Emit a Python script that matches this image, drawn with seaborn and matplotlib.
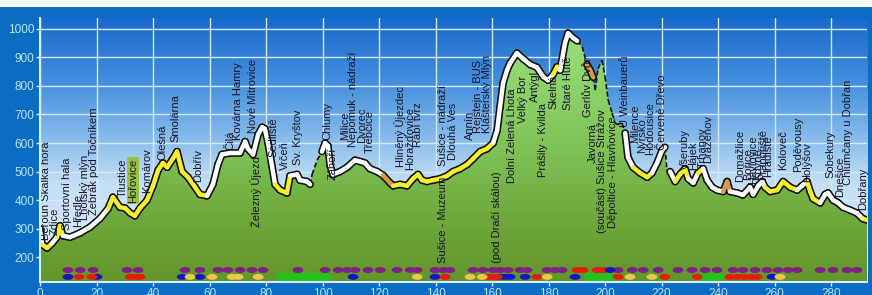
import numpy as np
import matplotlib
matplotlib.use("Agg")
import matplotlib.pyplot as plt
import seaborn as sns
from matplotlib.colors import LinearSegmentedColormap
from matplotlib.collections import LineCollection
from matplotlib.patches import Polygon, Rectangle
from matplotlib.path import Path

# elevation profile (km, m n.m.)
km = [0, 0.7, 1.4, 2.5, 4.2, 6.0, 7.1, 8.1, 10.6, 14.2, 17.7, 21.2, 24.1, 25.8, 28.3,
      30.1, 31.9, 33.6, 35.4, 37.9, 40.0, 41.8, 43.5, 45.0, 46.7, 48.5, 50.3, 52.4,
      54.9, 56.6, 59.1, 61.2, 63.0, 64.4, 67.3, 70.8, 72.6, 73.6, 75.4, 77.2, 78.6,
      79.6, 80.7, 82.1, 83.2, 85.0, 87.4, 88.5, 91.0, 92.0, 94.5, 95.6, 96.3, 98.1,
      99.8, 100.9, 101.9, 102.7, 103.7, 106.2, 108.7, 111.5, 113.3, 115.0, 116.8,
      119.3, 121.4, 123.9, 125.0, 127.4, 129.9, 132.0, 133.8, 135.2, 137.0, 139.1,
      141.6, 144.1, 146.2, 148.7, 151.2, 153.3, 155.8, 158.2, 160.4, 161.8, 162.8,
      163.9, 165.3, 166.4, 168.8, 171.0, 173.5, 175.9, 178.1, 179.8, 181.6, 183.0,
      184.1, 185.8, 186.9, 188.7, 190.1, 191.9, 193.6, 194.7, 195.8, 196.5, 197.5,
      198.9, 200.0, 201.1, 202.5, 203.5, 204.2, 206.0, 207.1, 208.1, 209.9, 212.4,
      214.9, 216.6, 218.4, 220.2, 221.2, 221.9, 223.0, 224.8, 226.5, 228.3, 229.4,
      231.2, 232.9, 234.7, 236.1, 237.9, 239.6, 241.8, 243.2, 244.2, 246.7, 248.8,
      251.3, 252.4, 254.2, 255.6, 256.6, 258.4, 260.9, 263.0, 265.5, 268.0, 269.7,
      271.5, 272.6, 273.6, 276.1, 277.9, 278.9, 280.7, 282.5, 284.2, 286.7, 289.2,
      291.2, 292.7]
elev = [300, 245, 240, 232, 248, 270, 310, 275, 270, 285, 305, 335, 370, 410, 375,
        372, 355, 345, 372, 400, 450, 505, 530, 515, 540, 570, 500, 480,
        445, 420, 415, 455, 525, 560, 565, 565, 605, 580, 560, 630, 655,
        650, 600, 520, 455, 435, 425, 485, 490, 470, 465, 455, 490, 540,
        570, 600, 590, 520, 490, 500, 515, 540, 535, 530, 510,
        500, 487, 460, 450, 455, 450, 475, 490, 470, 465, 470,
        475, 485, 500, 510, 525, 545, 570, 580, 600, 645, 725,
        810, 855, 880, 915, 895, 875, 865, 832, 820, 840, 867,
        855, 950, 985, 968, 958, 937, 875, 855, 830, 785, 860,
        890, 832, 750, 705, 670, 665, 670, 635, 550, 515, 495,
        480, 495, 530, 575, 585, 505, 500, 465, 490, 510, 475,
        460, 495, 510, 470, 445, 435, 430, 465, 430, 425, 418,
        445, 420, 450, 465, 445, 430, 435, 465, 445, 435, 450,
        465, 430, 405, 390, 420, 425, 400, 390, 375, 365, 354,
        335, 330]

# route line colour sections (default white)
sec_from = [0.7, 5.7, 24.0, 51.0, 84.0, 95.3, 121.0, 125.0, 181.0, 190.0, 194.0,
            209.5, 221.5, 224.0, 232.5, 241.0, 257.5, 272.0, 291.0]
sec_to = [4.3, 8.5, 51.0, 59.5, 88.5, 99.9, 125.0, 161.0, 184.2, 207.0, 195.3,
          216.8, 222.9, 229.0, 235.0, 244.5, 268.5, 276.5, 292.7]
sec_kind = ["yellow", "yellow", "yellow", "yellow", "yellow", "none", "orange",
            "yellow", "yellow", "none", "orange", "yellow", "none", "yellow",
            "yellow", "orange", "yellow", "yellow", "yellow"]

# place names: km, elevation of the label's foot
place = ["Beroun Skalka hora", "Zdice", "Sportovní hala", "Hředle", "Lhotský mlýn",
         "Žebrák pod Točníkem", "Tlustice", "Hořovice", "Komárov", "Olešná", "Smolárna",
         "Dobřív", "Čilá", "Kovárna Hamry", "Nové Mitrovice", "Železný Újezd",
         "Sedliště", "Vrčeň", "Sv. Kryštov", "Chlumy", "Záhoří", "Milice",
         "Nepomuk - nádraží", "Dvorec", "Třebčice", "Hliněný Újezdec", "Horažďovice",
         "Rábí tvrz", "Sušice - Muzeum", "Sušice - nádraží", "Dlouhá Ves", "Annín",
         "Rejštejn - BUS", "Klášterský Mlýn", "(pod Dračí skálou)",
         "Dolní Zelená Lhota", "Velký Bor", "Antýgl", "Prášily - Kvilda", "Skelná",
         "Staré Hutě", "Gerlův Dvůr", "Javorná", "(součást) Sušice Strážov",
         "Děpoltice - Hlavňovice", "U Weinbauerů", "Milence", "Nýrsko", "Hodousice",
         "Červené Dřevo", "Všeruby", "Hájek", "Trhanov", "Draženov", "Domažlice",
         "Bořice", "Havlovice", "Kdyně", "Prapořiště", "Hradiště", "Koloveč",
         "Poděvousy", "Holýšov", "Sobekury", "Dnešice", "Chlumčany u Dobřan",
         "Dobřany"]
place_km = [2.3, 5.0, 9.6, 13.5, 15.9, 18.8, 29.4, 32.9, 37.9, 43.2, 47.8,
            55.9, 67.3, 70.0, 75.4, 76.5, 82.8, 86.7, 91.3, 101.6, 103.7, 108.0,
            110.8, 114.0, 116.8, 127.4, 131.0, 133.8, 142.7, 142.7, 146.2, 152.2,
            155.0, 158.2, 161.8, 167.1, 171.0, 175.2, 178.0, 181.6, 186.9, 194.0,
            195.8, 199.0, 202.8, 207.0, 210.6, 213.0, 216.0, 220.0, 228.3, 231.2,
            234.7, 236.5, 247.8, 250.5, 252.4, 254.2, 256.0, 257.8, 263.0, 268.3,
            271.5, 279.6, 283.2, 286.0, 291.3]
place_foot = [260, 277, 295, 305, 330, 347, 410, 390, 425, 540, 603,
              463, 575, 610, 635, 305, 550, 505, 523, 610, 470, 610,
              586, 600, 565, 516, 505, 586, 179, 520, 540, 610,
              635, 635, 179, 460, 670, 745, 480, 720, 716, 690,
              530, 284, 302, 656, 600, 565, 558, 575, 505, 505,
              512, 530, 463, 470, 455, 470, 470, 480, 505, 498,
              463, 477, 410, 452, 365]
highlight = ["Hořovice"]

# service dots along the route
purple_km = [9.9, 14.2, 18.8, 30.8, 34.7, 51.3, 56.6, 63.0, 66.5, 70.8, 75.0, 78.9,
             91.3, 100.9, 105.5, 108.7, 111.5, 116.1, 120.4, 126.4, 131.0, 133.5,
             139.8, 142.7, 145.1, 153.3, 156.8, 160.4, 162.8, 165.7, 169.9, 172.4,
             179.5, 182.3, 184.8, 204.6, 209.6, 213.5, 218.8, 225.8, 230.8, 235.4,
             239.6, 245.3, 248.8, 253.1, 257.3, 261.2, 264.8, 268.0, 276.1, 280.7,
             285.7, 289.2]
upper_red_km = [190.1, 192.2, 197.2, 199.3]
upper_blue_km = [201.8]
blue_km = [9.9, 20.2, 50.3, 56.6, 110.8, 139.8, 162.8, 164.6, 166.4, 171.7, 189.4,
           259.1]
red_km = [13.8, 18.4, 31.9, 34.0, 35.4, 143.4, 158.2, 160.0, 161.8, 175.9, 204.6,
          221.2, 232.6, 244.2, 246.7, 249.2, 251.7, 253.8]
yellow_km = [53.1, 60.9, 68.0, 70.1, 77.2, 133.5, 152.2, 156.5, 179.5, 208.8,
             216.6, 261.9]
green_from = [85.0, 193.6, 233.6]
green_to = [102.0, 201.8, 240.7]

X_MAX, Y_MIN, Y_MAX = 292.7, 113, 1038
ROW_UP, ROW_LOW = 155, 131

km_a = np.array(km)
elev_a = np.array(elev)

plt.rcParams["font.family"] = ["Liberation Sans", "DejaVu Sans"]
fig = plt.figure(figsize=(8.72, 2.95), dpi=100, facecolor="#0b6cc3")
ax = fig.add_axes([40 / 872, 13 / 295, 827 / 872, 264 / 295])
fig.patches.append(Rectangle((0, 288 / 295), 1, 7 / 295, transform=fig.transFigure,
                             facecolor="white", edgecolor="none"))

# sky
sky = LinearSegmentedColormap.from_list(
    "sky", [(0, "#1a69cc"), (0.25, "#4690de"), (0.47, "#8dbfec"),
            (0.62, "#c3def4"), (1, "#e6f1fa")])
ax.imshow(np.linspace(0, 1, 256).reshape(-1, 1), extent=[0, X_MAX, Y_MIN, Y_MAX],
          aspect="auto", cmap=sky, origin="upper", zorder=0)

# ground, gradient clipped to the profile
ground = LinearSegmentedColormap.from_list(
    "ground", [(0, "#9ce07f"), (0.45, "#80c458"), (0.8, "#6ca438"), (1, "#62962a")])
gimg = ax.imshow(np.linspace(0, 1, 256).reshape(-1, 1), extent=[0, X_MAX, Y_MIN, 1000],
                 aspect="auto", cmap=ground, origin="upper", zorder=2)
verts = np.column_stack([np.r_[km_a, X_MAX, 0], np.r_[elev_a, Y_MIN, Y_MIN]])
clip = Polygon(verts, closed=True, transform=ax.transData, facecolor="none",
               edgecolor="none")
ax.add_patch(clip)
gimg.set_clip_path(clip)

# route line
colors = {"white": "white", "yellow": "#f4ee2c", "orange": "#d99a45"}
segs, seg_kind = [], []
for i in range(len(km) - 1):
    mid = (km[i] + km[i + 1]) / 2
    kind = "white"
    for a, b, k in zip(sec_from, sec_to, sec_kind):
        if a <= mid <= b:
            kind = k
    segs.append([(km[i], elev[i]), (km[i + 1], elev[i + 1])])
    seg_kind.append(kind)

hidden = [s for s, k in zip(segs, seg_kind) if k == "none"]
vis = [s for s, k in zip(segs, seg_kind) if k != "none"]
vis_c = [colors[k] for k in seg_kind if k != "none"]
ax.add_collection(LineCollection(hidden, colors="#111111", linewidths=1.2,
                                 linestyles=(0, (3, 1.5)), zorder=3))
ax.add_collection(LineCollection(vis, colors="#111111", linewidths=5.5,
                                 capstyle="round", joinstyle="round", zorder=3))
ax.add_collection(LineCollection(vis, colors=vis_c, linewidths=3.2,
                                 capstyle="round", joinstyle="round", zorder=4))

# dots
ell = np.column_stack([np.cos(np.linspace(0, 2 * np.pi, 30)),
                       0.55 * np.sin(np.linspace(0, 2 * np.pi, 30))])
ell_marker = Path(ell)
dot_sets = [(purple_km, ROW_UP, "#7d1f86"), (upper_red_km, ROW_UP, "#e81a0c"),
            (upper_blue_km, ROW_UP, "#1515c8"), (blue_km, ROW_LOW, "#1515c8"),
            (red_km, ROW_LOW, "#e81a0c"), (yellow_km, ROW_LOW, "#f0c848")]
for xs, row, col in dot_sets:
    sns.scatterplot(x=xs, y=[row] * len(xs), marker=ell_marker, s=60, color=col,
                    edgecolor="none", linewidth=0, ax=ax, zorder=6)
for a, b in zip(green_from, green_to):
    ax.plot([a, b], [ROW_LOW, ROW_LOW], color="#22c21a", lw=5.5,
            solid_capstyle="round", zorder=5)

# place names
for name, x, y in zip(place, place_km, place_foot):
    box = None
    if name in highlight:
        box = dict(facecolor="#97c23a", edgecolor="none", pad=1)
    ax.text(x, y, name, rotation=90, ha="center", va="bottom", fontsize=8,
            color="#15152a", zorder=7, bbox=box)

ax.set_xlim(0, X_MAX)
ax.set_ylim(Y_MIN, Y_MAX)
ax.set_xticks(range(0, 281, 20))
ax.set_yticks(range(200, 1001, 100))
ax.set_axisbelow(True)
ax.grid(True, color="#d2e8fb", lw=1.0)
for side in ["top", "right"]:
    ax.spines[side].set_visible(False)
for side in ["left", "bottom"]:
    ax.spines[side].set_color("#d6eeff")
    ax.spines[side].set_linewidth(1.5)
    ax.spines[side].set_zorder(8)
ax.tick_params(colors="#d6eeff", labelcolor="#b8e6ff", labelsize=8.5, length=3,
               width=1, pad=1)

fig.savefig("out.png", dpi=100, facecolor=fig.get_facecolor())
